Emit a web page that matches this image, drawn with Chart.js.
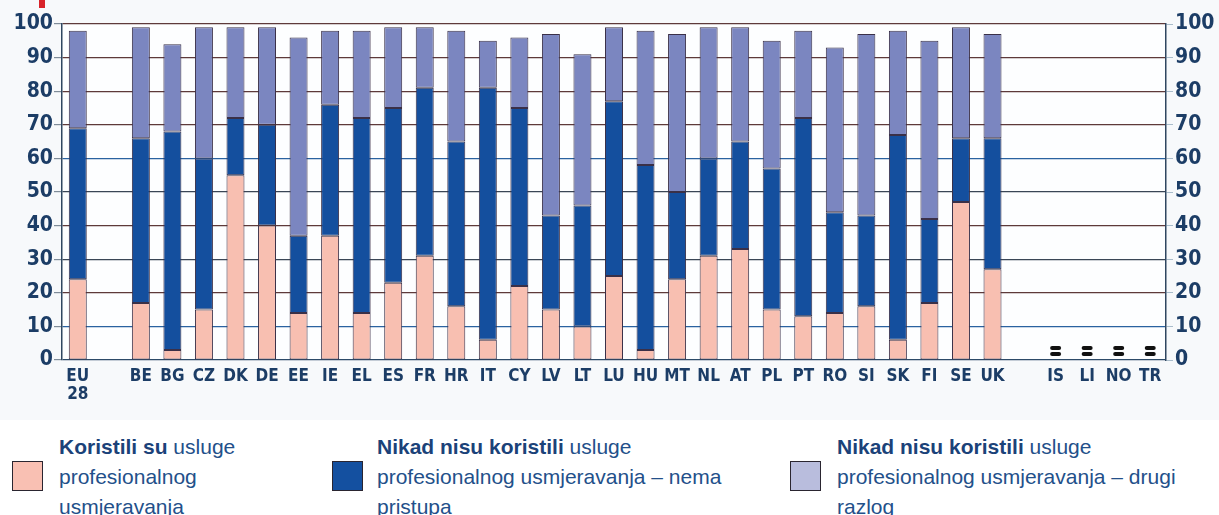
<!DOCTYPE html>
<html>
<head>
<meta charset="utf-8">
<script src="https://cdn.jsdelivr.net/npm/chart.js@4/dist/chart.umd.min.js"></script>
<style>
  html, body { margin: 0; padding: 0; background: #ffffff; }
  body { width: 1219px; height: 515px; position: relative; overflow: hidden; font-family: "Liberation Sans", Arial, sans-serif; }
  #wrap { position: absolute; left: 0; top: 0; width: 1219px; height: 420px; background: #f7f9fb; }
  #redmark { position: absolute; left: 39px; top: 0; width: 6px; height: 8px; background: #d8232a; }
  .legend { position: absolute; top: 432px; font-size: 21px; line-height: 30px; color: #23508a; white-space: nowrap; }
  .legend b { color: #1b4279; }
  .swatch { position: absolute; top: 461px; width: 29px; height: 28px; border: 1.5px solid #2a2530; }
</style>
</head>
<body>
<div id="wrap"><canvas id="chart"></canvas></div>
<div id="redmark"></div>

<div class="swatch" style="left:12px;background:#f9c0b3"></div>
<div class="legend" style="left:59px"><b>Koristili su</b> usluge<br>profesionalnog<br>usmjeravanja</div>

<div class="swatch" style="left:332px;background:#1450a0"></div>
<div class="legend" style="left:377px"><b>Nikad nisu koristili</b> usluge<br>profesionalnog usmjeravanja – nema<br>pristupa</div>

<div class="swatch" style="left:790px;background:#b9bddd"></div>
<div class="legend" style="left:837px"><b>Nikad nisu koristili</b> usluge<br>profesionalnog usmjeravanja – drugi<br>razlog</div>

<script>
// categories ('' = empty gap slot)
const countries = [
  ['EU', '28'], '', 'BE', 'BG', 'CZ', 'DK', 'DE', 'EE', 'IE', 'EL', 'ES', 'FR', 'HR', 'IT',
  'CY', 'LV', 'LT', 'LU', 'HU', 'MT', 'NL', 'AT', 'PL', 'PT', 'RO', 'SI', 'SK', 'FI', 'SE',
  'UK', '', 'IS', 'LI', 'NO', 'TR'
];

// countries with no data (drawn as ":" marker)
const notAvailable = ['IS', 'LI', 'NO', 'TR'];

// used career guidance services
const usedServices = [
  24, null, 17, 3, 15, 55, 40, 14, 37, 14, 23, 31, 16, 6,
  22, 15, 10, 25, 3, 24, 31, 33, 15, 13, 14, 16, 6, 17, 47,
  27, null, null, null, null, null
];

// never used - no access
const noAccess = [
  45, null, 49, 65, 45, 17, 30, 23, 39, 58, 52, 50, 49, 75,
  53, 28, 36, 52, 55, 26, 29, 32, 42, 59, 30, 27, 61, 25, 19,
  39, null, null, null, null, null
];

// never used - other reason
const otherReason = [
  29, null, 33, 26, 39, 27, 29, 59, 22, 26, 24, 18, 33, 14,
  21, 54, 45, 22, 40, 47, 39, 34, 38, 26, 49, 54, 31, 53, 33,
  31, null, null, null, null, null
];

const yTicks = [0, 10, 20, 30, 40, 50, 60, 70, 80, 90, 100];

const NARROW = "'Liberation Sans Narrow', 'DejaVu Sans Condensed', 'Liberation Sans', Arial, sans-serif";

function gridColor(v) {
  if (v === 60 || v === 10) return '#2a62a0';
  if (v === 0) return '#2c4a68';
  if (v === 50 || v === 30) return '#3a4656';
  return '#5e3a3a';
}

// white plot background
const plotBg = {
  id: 'plotBg',
  beforeDraw(chart) {
    const { ctx, chartArea: a } = chart;
    ctx.save();
    ctx.fillStyle = '#fdfeff';
    ctx.fillRect(a.left, a.top, a.right - a.left, a.bottom - a.top);
    ctx.restore();
  }
};

// draws the ":" markers for the missing countries
const naMarkers = {
  id: 'naMarkers',
  afterDatasetsDraw(chart) {
    const ctx = chart.ctx;
    const x = chart.scales.x;
    const yb = chart.chartArea.bottom;
    ctx.save();
    ctx.strokeStyle = '#111';
    ctx.lineWidth = 4;
    ctx.lineCap = 'round';
    notAvailable.forEach(code => {
      const i = countries.indexOf(code);
      const cx = x.getPixelForValue(i);
      [yb - 12, yb - 6].forEach(yy => {
        ctx.beginPath();
        ctx.moveTo(cx - 3.5, yy);
        ctx.lineTo(cx + 3.5, yy);
        ctx.stroke();
      });
    });
    ctx.restore();
  }
};

const common = {
  stack: 's',
  borderColor: '#3a3048',
  borderWidth: 1,
  borderSkipped: false,
  barPercentage: 0.57,
  categoryPercentage: 1.0
};

new Chart(document.getElementById('chart'), {
  type: 'bar',
  data: {
    labels: countries,
    datasets: [
      Object.assign({ label: 'Koristili su usluge profesionalnog usmjeravanja', data: usedServices, backgroundColor: '#f8bfb1' }, common),
      Object.assign({ label: 'Nikad nisu koristili – nema pristupa', data: noAccess, backgroundColor: '#144f9e' }, common),
      Object.assign({ label: 'Nikad nisu koristili – drugi razlog', data: otherReason, backgroundColor: '#7b86c0' }, common)
    ]
  },
  options: {
    responsive: true,
    maintainAspectRatio: false,
    animation: false,
    layout: { padding: { top: 24, left: 0, right: 0, bottom: 0 } },
    plugins: {
      legend: { display: false },
      tooltip: { enabled: false }
    },
    scales: {
      x: {
        stacked: true,
        grid: { display: false, drawTicks: false },
        border: { display: false },
        ticks: {
          color: '#1c3d66',
          font: { family: NARROW, size: 17, weight: 'bold', lineHeight: 1.1 },
          padding: 7,
          maxRotation: 0,
          autoSkip: false
        },
        afterFit(scale) { scale.height = 60; }
      },
      y: {
        stacked: true,
        position: 'left',
        min: 0,
        max: 100,
        afterBuildTicks(scale) { scale.ticks = yTicks.map(v => ({ value: v })); },
        grid: {
          color: ctx => gridColor(ctx.tick.value),
          lineWidth: 1.2,
          tickLength: 8,
          tickColor: '#7f8c99'
        },
        border: { display: true, color: '#2f4660', width: 1.5 },
        ticks: {
          color: '#1c3d66',
          font: { family: NARROW, size: 21, weight: 'bold' },
          padding: 1
        },
        afterFit(scale) { scale.width = 62; }
      },
      y2: {
        position: 'right',
        min: 0,
        max: 100,
        afterBuildTicks(scale) { scale.ticks = yTicks.map(v => ({ value: v })); },
        grid: { drawOnChartArea: false, tickLength: 7, tickColor: '#a9bccb' },
        border: { display: true, color: '#2f4660', width: 1.5 },
        ticks: {
          color: '#1c3d66',
          font: { family: NARROW, size: 21, weight: 'bold' },
          padding: 2
        },
        afterFit(scale) { scale.width = 53; }
      }
    }
  },
  plugins: [plotBg, naMarkers]
});
</script>
</body>
</html>
